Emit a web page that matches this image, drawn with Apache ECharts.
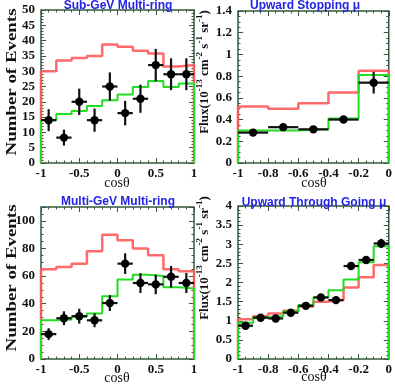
<!DOCTYPE html>
<html><head><meta charset="utf-8">
<script src="https://cdn.jsdelivr.net/npm/echarts@6/dist/echarts.min.js"></script>
<style>html,body{margin:0;padding:0;background:#fff}#c{width:395px;height:385px}</style>
</head><body><div id="c"></div>
<script>
// ---- data ----
const edges20 = [-1,-0.8,-0.6,-0.4,-0.2,0,0.2,0.4,0.6,0.8,1];
const centers20 = [-0.9,-0.7,-0.5,-0.3,-0.1,0.1,0.3,0.5,0.7,0.9];
const edgesUp5 = [-1,-0.8,-0.6,-0.4,-0.2,0];
const centersUp5 = [-0.9,-0.7,-0.5,-0.3,-0.1];
const edgesUp10 = [-1,-0.9,-0.8,-0.7,-0.6,-0.5,-0.4,-0.3,-0.2,-0.1,0];
const centersUp10 = [-0.95,-0.85,-0.75,-0.65,-0.55,-0.45,-0.35,-0.25,-0.15,-0.05];

// Sub-GeV Multi-ring
const sgNoOsc = [30,33.5,34.3,35,38.7,38,36.7,35.8,31.5,32];
const sgOsc   = [14,16,17,18.6,20.5,22.4,24.8,26.8,24.8,26];
const sgData  = [14,8.3,20,14,25,16.3,21,32,29,29];
const sgErr   = [3.6,2.6,4.3,3.8,4.6,4,4.6,5.3,5.2,5.2];

// Upward stopping mu
const usNoOsc = [0.52,0.50,0.55,0.65,0.85];
const usOsc   = [0.30,0.30,0.31,0.41,0.81];
const usData  = [0.28,0.33,0.31,0.40,0.74];
const usErr   = [0.03,0.03,0.03,0.03,0.10];

// Multi-GeV Multi-ring
const mgNoOsc = [65,66.5,69,78,90,86,80,75,65,63.5];
const mgOsc   = [28,28.5,30.5,33,45.5,57.5,61,60,52,51];
const mgData  = [18,29.5,31,28,40.5,69,55,54,59.5,55];
const mgErr   = [4.3,5,5.4,5,5.7,7.5,7.2,7.1,7.8,7.2];

// Upward through-going mu
const utNoOsc = [1.04,1.12,1.19,1.26,1.37,1.50,1.54,1.87,2.14,2.46];
const utOsc   = [0.95,1.09,1.12,1.24,1.41,1.61,1.80,2.08,2.53,2.95];
const utData  = [0.87,1.08,1.06,1.21,1.39,1.61,1.54,2.43,2.59,3.02];
const utErr   = [0.07,0.06,0.06,0.06,0.07,0.08,0.08,0.10,0.10,0.12];

const titles = ['Sub-GeV Multi-ring','Upward Stopping \u03bc','Multi-GeV Multi-ring','Upward Through Going \u03bc'];

// ---- styling ----
const FRAME = '#35583c';
const RED = 'rgba(255,90,90,0.9)';
const GREEN = '#22dd22';
const grids = [
  {left:41, top:10, width:153, height:153},
  {left:238, top:11, width:151, height:152},
  {left:41, top:207, width:153, height:152},
  {left:238, top:206, width:151, height:153}
];
const axCfg = [
  {xmin:-1,xmax:1,xint:0.5,xminor:5,ymin:0,ymax:50,yint:5,yminor:5},
  {xmin:-1,xmax:0,xint:0.2,xminor:4,ymin:0,ymax:1.4,yint:0.2,yminor:4},
  {xmin:-1,xmax:1,xint:0.5,xminor:5,ymin:0,ymax:110,yint:20,yminor:4},
  {xmin:-1,xmax:0,xint:0.2,xminor:4,ymin:0,ymax:4,yint:0.5,yminor:5}
];
const labelFont = {fontFamily:'Liberation Serif', fontWeight:'bold', fontSize:13, color:'#111'};

function stepData(edges, vals){
  const d = [[edges[0],0]];
  vals.forEach((v,i)=>{ d.push([edges[i],v]); d.push([edges[i+1],v]); });
  d.push([edges[edges.length-1],0]);
  return d;
}

const xAxis = [], yAxis = [];
axCfg.forEach((c,i)=>{
  ['bottom','top'].forEach((pos,k)=>{
    xAxis.push({gridIndex:i, type:'value', position:pos, min:c.xmin, max:c.xmax, interval:c.xint,
      axisLine:{show:false, onZero:false}, splitLine:{show:false},
      axisTick:{show:true, inside:true, length:5, lineStyle:{color:FRAME, width:1}},
      minorTick:{show:true, splitNumber:c.xminor, length:2.5, lineStyle:{color:FRAME, width:1}},
      axisLabel:Object.assign({show:k===0, margin:4}, labelFont)});
  });
  ['left','right'].forEach((pos,k)=>{
    yAxis.push({gridIndex:i, type:'value', position:pos, min:c.ymin, max:c.ymax, interval:c.yint,
      axisLine:{show:false, onZero:false}, splitLine:{show:false},
      axisTick:{show:true, inside:true, length:5, lineStyle:{color:FRAME, width:1}},
      minorTick:{show:true, splitNumber:c.yminor, length:2.5, lineStyle:{color:FRAME, width:1}},
      axisLabel:Object.assign({show:k===0, margin:6, showMaxLabel: i===2 ? false : true}, labelFont)});
  });
});

function histSeries(i, edges, vals, color, w, z){
  return {type:'line', xAxisIndex:2*i, yAxisIndex:2*i, data:stepData(edges, vals),
    symbol:'none', lineStyle:{color:color, width:w}, z:z, animation:false, clip:false};
}
function errSeries(i, xs, ys, es, hw){
  return {type:'custom', xAxisIndex:2*i, yAxisIndex:2*i, z:6, animation:false,
    data: xs.map((x,k)=>[x, ys[k], es[k], hw]),
    renderItem(params, api){
      const x=api.value(0), y=api.value(1), e=api.value(2), h=api.value(3);
      const a=api.coord([x,y-e]), b=api.coord([x,y+e]), l=api.coord([x-h,y]), r=api.coord([x+h,y]), c=api.coord([x,y]);
      return {type:'group', children:[
        {type:'line', shape:{x1:a[0],y1:a[1],x2:b[0],y2:b[1]}, style:{stroke:'#111', lineWidth:2.2}},
        {type:'line', shape:{x1:l[0],y1:l[1],x2:r[0],y2:r[1]}, style:{stroke:'#111', lineWidth:2.2}},
        {type:'circle', shape:{cx:c[0], cy:c[1], r:4.2}, style:{fill:'#000'}}
      ]};
    }};
}

const series = [
  histSeries(0, edges20, sgNoOsc, RED, 2.5, 3), histSeries(0, edges20, sgOsc, GREEN, 2, 4), errSeries(0, centers20, sgData, sgErr, 0.1),
  histSeries(1, edgesUp5, usNoOsc, RED, 2.5, 3), histSeries(1, edgesUp5, usOsc, GREEN, 2, 4), errSeries(1, centersUp5, usData, usErr, 0.1),
  histSeries(2, edges20, mgNoOsc, RED, 2.5, 3), histSeries(2, edges20, mgOsc, GREEN, 2, 4), errSeries(2, centers20, mgData, mgErr, 0.1),
  histSeries(3, edgesUp10, utNoOsc, RED, 2.5, 3), histSeries(3, edgesUp10, utOsc, GREEN, 2, 4), errSeries(3, centersUp10, utData, utErr, 0.05)
];

const titlePos = [[118,6],[305,6],[118,202],[314,203]];
const cosPos = [[117,183],[314,183],[117,378],[314,377]];
const graphic = [];
titles.forEach((t,i)=>{
  graphic.push({type:'text', x:titlePos[i][0], y:titlePos[i][1], z:10,
    style:{text:t, font:'bold 12px "Liberation Sans"', fill:'#2323e8', align:'center', verticalAlign:'middle'}});
  graphic.push({type:'text', x:cosPos[i][0], y:cosPos[i][1], z:10,
    style:{text:'cos\u03b8', font:'14px "Liberation Serif"', fill:'#111', align:'center', verticalAlign:'middle'}});
});
[[12,82],[12,278]].forEach(p=>{
  graphic.push({type:'text', x:p[0], y:p[1], rotation:Math.PI/2, scaleX:1.35, z:10,
    style:{text:'Number of Events', font:'bold 14px "Liberation Serif"', fill:'#111', align:'center', verticalAlign:'middle'}});
});
const fluxRich = {
  b:{font:'bold 13px "Liberation Serif"', fill:'#111', verticalAlign:'bottom', lineHeight:16},
  s:{font:'bold 9px "Liberation Serif"', fill:'#111', verticalAlign:'top', lineHeight:16}
};
[[203,72],[203,258]].forEach(p=>{
  graphic.push({type:'text', x:p[0], y:p[1], rotation:Math.PI/2, z:10,
    style:{text:'{b|Flux(10}{s|-13}{b| cm}{s|-2}{b| s}{s|-1}{b| sr}{s|-1}{b|)}', rich:fluxRich, align:'center', verticalAlign:'middle'}});
});

const chart = echarts.init(document.getElementById('c'), null, {renderer:'canvas'});
chart.setOption({
  animation:false,
  backgroundColor:'#fff',
  grid: grids.map(g=>Object.assign({show:true, borderColor:FRAME, borderWidth:1.5, backgroundColor:'transparent', containLabel:false}, g)),
  xAxis, yAxis, series, graphic
});
</script></body></html>
